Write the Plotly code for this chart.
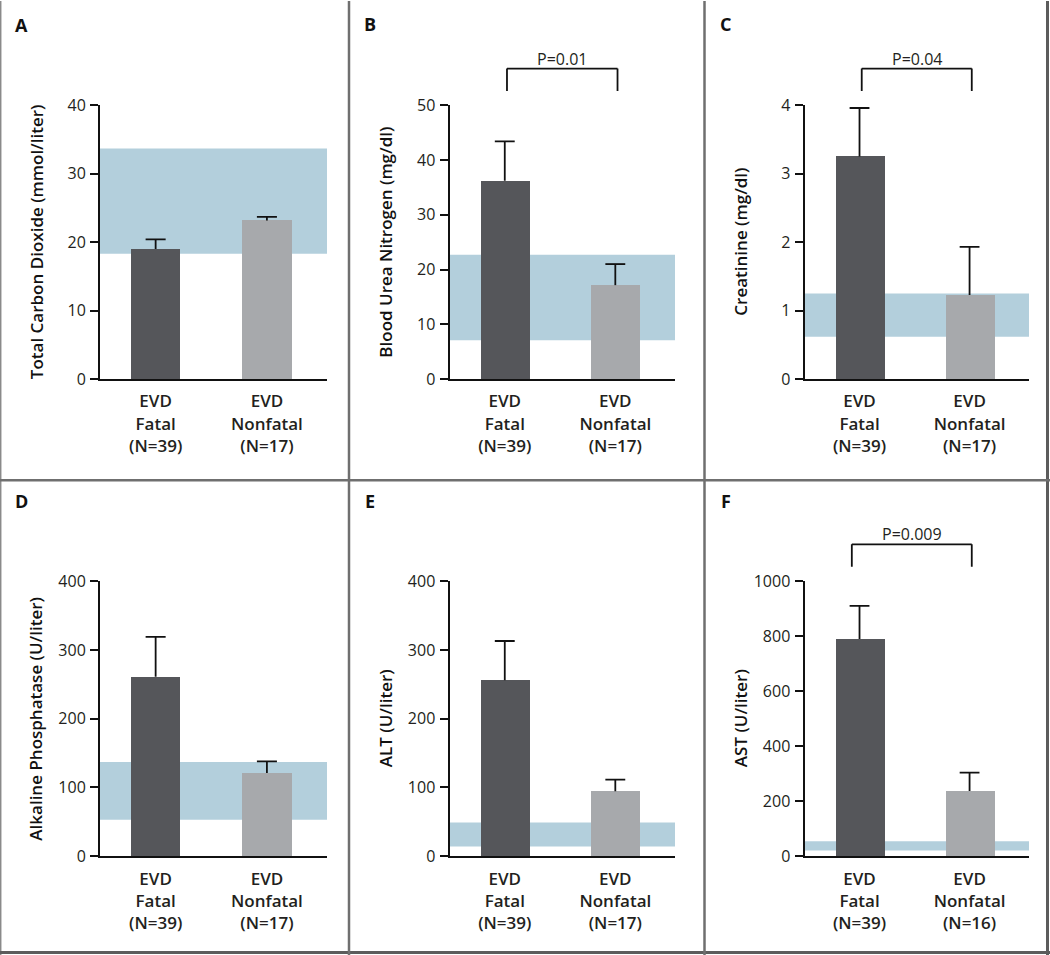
import plotly.graph_objects as go

# ---------------- data ----------------
panel_letters = ["A", "B", "C", "D", "E", "F"]
y_titles = [
    "Total Carbon Dioxide (mmol/liter)",
    "Blood Urea Nitrogen (mg/dl)",
    "Creatinine (mg/dl)",
    "Alkaline Phosphatase (U/liter)",
    "ALT (U/liter)",
    "AST (U/liter)",
]
fatal_mean = [19.0, 36.2, 3.25, 261, 256, 790]
fatal_err = [1.4, 7.2, 0.71, 58, 57, 120]
nonfatal_mean = [23.15, 17.15, 1.23, 121, 94.5, 237]
nonfatal_err = [0.55, 3.85, 0.70, 17, 17, 67]
normal_low = [18.3, 7.1, 0.62, 53, 14, 21]
normal_high = [33.7, 22.7, 1.25, 137, 49, 54]
y_max = [40, 50, 4, 400, 400, 1000]
y_step = [10, 10, 1, 100, 100, 200]
n_fatal = [39, 39, 39, 39, 39, 39]
n_nonfatal = [17, 17, 17, 17, 17, 16]
p_values = [None, "P=0.01", "P=0.04", None, None, "P=0.009"]
group_names = ["Fatal", "Nonfatal"]

# ---------------- style ----------------
W, H = 1050, 975
Y_OFF, Y_SCALE = 10.0, 0.978   # observed vertical mapping of the photographed frame
DARK = "#55565a"
LIGHT = "#a7a9ac"
BAND = "#b3cfdc"
BORDER = "#6f6f6f"
FONT = "Open Sans"
CAP = 0.09  # half-width of error-bar caps, in category units

# pixel layout (target frame coordinates) of each axis box
col_px = [(100, 327), (449.5, 675), (804.5, 1029)]
row_px = [(104.3, 378.3), (580.5, 855.7)]
letter_pos = [(21.5, 24), (370, 23.5), (725, 23.5), (21.5, 500.5), (370, 500.5), (725.5, 500.5)]

fig = go.Figure()
layout = dict(
    width=W, height=H, margin=dict(l=0, r=0, t=0, b=0),
    paper_bgcolor="white", plot_bgcolor="white",
    showlegend=False, bargap=0,
    font=dict(family=FONT, color="#231f20"),
)
shapes = []
annotations = []


def px_x(p):
    return p / W


def px_y(p):
    return 1 - ((p - Y_OFF) / Y_SCALE) / H


for i in range(6):
    r, c = divmod(i, 3)
    xl, xr = col_px[c]
    yt, yb = row_px[r]
    sfx = "" if i == 0 else str(i + 1)
    xa, ya = "x" + sfx, "y" + sfx

    means = [fatal_mean[i], nonfatal_mean[i]]
    errs = [fatal_err[i], nonfatal_err[i]]

    fig.add_trace(go.Bar(
        x=[0, 1], y=means, width=0.445,
        marker=dict(color=[DARK, LIGHT], line=dict(width=0)),
        xaxis=xa, yaxis=ya, hoverinfo="skip",
    ))
    # upper error bars (stem + cap)
    ex, ey = [], []
    for k in range(2):
        top = means[k] + errs[k]
        ex += [k, k, None, k - CAP, k + CAP, None]
        ey += [means[k], top, None, top, top, None]
    fig.add_trace(go.Scatter(
        x=ex, y=ey, mode="lines", line=dict(color="#111111", width=1.8),
        xaxis=xa, yaxis=ya, hoverinfo="skip", cliponaxis=False,
    ))

    ticks = list(range(0, y_max[i] + 1, y_step[i]))
    layout["xaxis" + sfx] = dict(
        domain=[px_x(xl), px_x(xr)], anchor=ya,
        range=[-0.5, 1.54], tickvals=[0, 1],
        ticktext=[f"EVD<br>{group_names[0]}<br>(N={n_fatal[i]})",
                  f"EVD<br>{group_names[1]}<br>(N={n_nonfatal[i]})"],
        tickfont=dict(size=17, family=FONT, weight=600, color="#231f20"),
        ticks="", showline=True, linecolor="#111111", linewidth=2,
        showgrid=False, zeroline=False, fixedrange=True,
        ticklabelstandoff=6,
    )
    layout["yaxis" + sfx] = dict(
        domain=[px_y(yb), px_y(yt)], anchor=xa,
        range=[0, y_max[i]], tickvals=ticks,
        ticktext=[str(t) for t in ticks],
        tickfont=dict(size=16, family=FONT, color="#231f20"),
        ticks="outside", ticklen=8, tickwidth=1.5, tickcolor="#111111",
        showline=True, linecolor="#111111", linewidth=2,
        showgrid=False, zeroline=False, fixedrange=True,
        ticklabelstandoff=1,
    )

    # reference (normal) range band
    shapes.append(dict(type="rect", xref=xa + " domain", yref=ya,
                       x0=0, x1=1, y0=normal_low[i], y1=normal_high[i],
                       fillcolor=BAND, line=dict(width=0), layer="below"))

    # y axis title
    annotations.append(dict(
        text=y_titles[i], textangle=-90, showarrow=False,
        xref="paper", yref="paper",
        x=px_x(xl - 64), y=px_y((yt + yb) / 2),
        xanchor="center", yanchor="middle",
        font=dict(size=17, family=FONT, weight=600, color="#111111"),
    ))
    # panel letter
    lx, ly = letter_pos[i]
    annotations.append(dict(
        text=panel_letters[i], showarrow=False, xref="paper", yref="paper",
        x=px_x(lx), y=px_y(ly), xanchor="center", yanchor="middle",
        font=dict(size=18, family=FONT, weight=700, color="#111111"),
    ))

    # significance bracket
    if p_values[i]:
        x0, x1 = (-0.07 if i == 5 else 0.02), 1.02
        top, leg = 1.134, 1.052
        bline = dict(color="#111111", width=1.8)
        shapes.append(dict(type="line", xref=xa, yref=ya + " domain",
                           x0=x0, x1=x1, y0=top, y1=top, line=bline))
        shapes.append(dict(type="line", xref=xa, yref=ya + " domain",
                           x0=x0, x1=x0, y0=top, y1=leg, line=bline))
        shapes.append(dict(type="line", xref=xa, yref=ya + " domain",
                           x0=x1, x1=x1, y0=top, y1=leg, line=bline))
        annotations.append(dict(
            text=p_values[i], showarrow=False, xref=xa, yref=ya + " domain",
            x=(x0 + x1) / 2, y=top, xanchor="center", yanchor="bottom",
            yshift=-3,
            font=dict(size=16, family=FONT, color="#231f20"),
        ))


# panel borders
def pline(x0, y0, x1, y1, w, col):
    shapes.append(dict(type="line", xref="paper", yref="paper",
                       x0=px_x(x0), x1=px_x(x1), y0=px_y(y0), y1=px_y(y1),
                       line=dict(color=col, width=w), layer="above"))


pline(0.7, 0, 0.7, 960, 1.5, "#8a8a8a")
pline(1047.5, 0, 1047.5, 960, 3, "#5c5c5c")
pline(0, 952, 1050, 952, 3, "#5c5c5c")
pline(349, 0, 349, 960, 2.5, BORDER)
pline(704.5, 0, 704.5, 960, 2.5, BORDER)
pline(0, 479.5, 1050, 479.5, 2.5, BORDER)

layout["shapes"] = shapes
layout["annotations"] = annotations
fig.update_layout(**layout)

post = (
    "document.documentElement.style.margin='0';"
    "document.documentElement.style.padding='0';"
    "document.body.style.margin='0';"
    "document.body.style.padding='0';"
    "var d=document.getElementById('{plot_id}');"
    "d.style.position='absolute';d.style.top='0px';d.style.left='0px';"
)
fig.write_html("out.html", config={"displayModeBar": False}, post_script=post)
